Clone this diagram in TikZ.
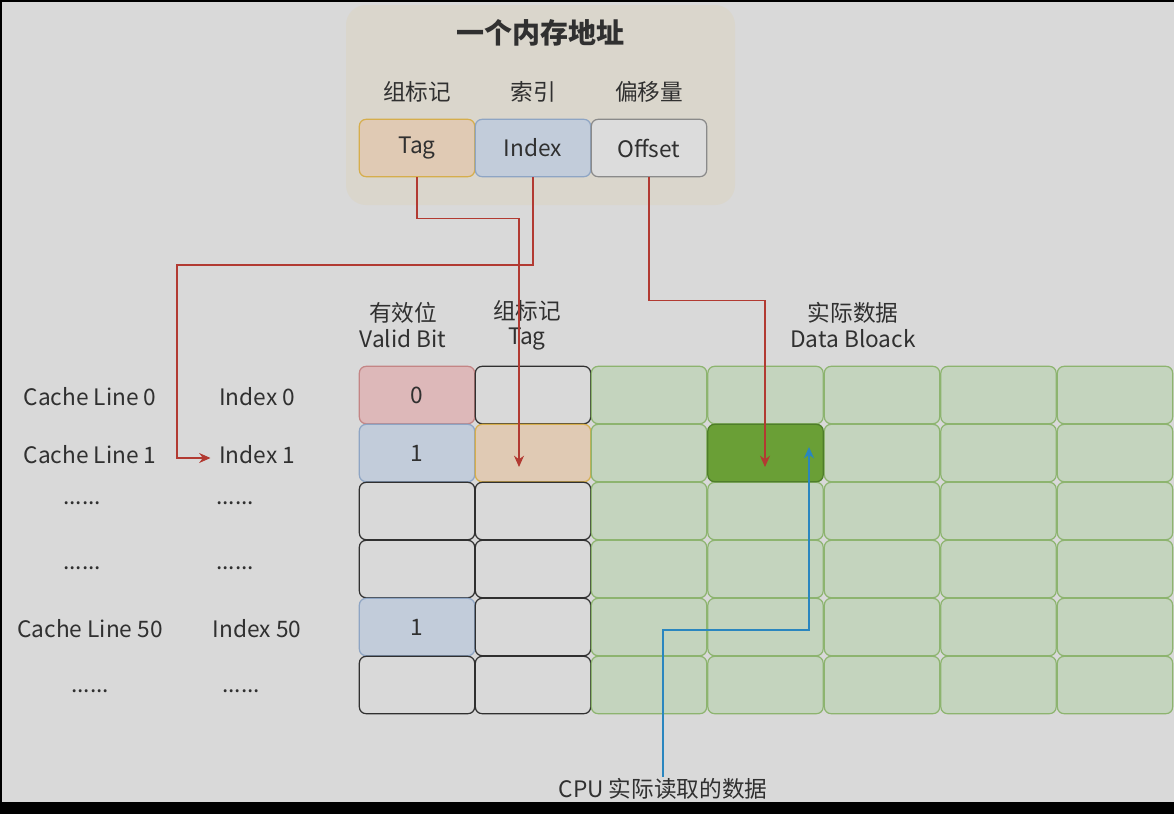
\documentclass[tikz,border=0pt]{standalone}
\usepackage{fontspec}
\setmainfont{Noto Sans CJK SC}
\usepackage{xcolor}
\usetikzlibrary{calc,arrows.meta}
\definecolor{frame}{HTML}{000000}
\definecolor{bg}{HTML}{D9D9D9}
\definecolor{panel}{HTML}{DAD6CC}
\definecolor{text}{HTML}{303030}
\definecolor{pinkfill}{HTML}{DDB8B9}
\definecolor{pinkline}{HTML}{C48585}
\definecolor{bluefill}{HTML}{C2CCDA}
\definecolor{blueline}{HTML}{8EA5C4}
\definecolor{peachfill}{HTML}{E0CAB4}
\definecolor{peachline}{HTML}{D6AE4C}
\definecolor{grayfill}{HTML}{DCDCDC}
\definecolor{grayline}{HTML}{8A8A8A}
\definecolor{greenfill}{HTML}{C4D4BE}
\definecolor{greenline}{HTML}{8DB46F}
\definecolor{darkgreen}{HTML}{6A9F36}
\definecolor{darkgreenline}{HTML}{4E7D2A}
\definecolor{redline}{HTML}{B23A32}
\definecolor{cpublue}{HTML}{2A86BF}
\tikzset{
  lab/.style={text=text, font=\fontsize{17}{19}\selectfont, inner sep=1pt},
  labt/.style={text=text, font=\fontsize{21}{24}\selectfont\bfseries, inner sep=1pt},
  cell/.style={draw=text, line width=0.9pt, rounded corners=5pt, minimum width=86.5pt,
    minimum height=43pt, inner sep=0pt, text=text, font=\fontsize{17}{19}\selectfont},
  plain/.style={cell},
  pinkc/.style={cell, fill=pinkfill, draw=pinkline},
  bluec/.style={cell, fill=bluefill, draw=blueline},
  peachc/.style={cell, fill=peachfill, draw=peachline},
  grayc/.style={cell, fill=grayfill, draw=grayline},
  greenc/.style={cell, fill=greenfill, draw=greenline},
  hitc/.style={cell, fill=darkgreen, draw=darkgreenline},
  link/.style={draw=redline, line width=1pt, -{Stealth[length=8.5pt,width=7.5pt]}},
  read/.style={draw=cpublue, line width=1pt, -{Stealth[length=8.5pt,width=7.5pt]}},
}

\begin{document}
\begin{tikzpicture}[x=0.75pt,y=-0.75pt]
  \fill[frame] (0,0) rectangle (1174,814);
  \fill[bg] (2,2) rectangle (1174,802);
  \useasboundingbox (0,0) rectangle (1174,814);

  % memory address
  \fill[panel, rounded corners=15pt] (346,5) rectangle (735,205);
  \node[labt] (addr) at (540,33) {一个内存地址};
  \node[peachc] (tag) at (417,148) {Tag};
  \node[bluec] (idx) at (533,148) {Index};
  \node[grayc] (off) at (649,148) {Offset};
  \node[lab] at (417,92) {组标记};
  \node[lab] at (533,92) {索引};
  \node[lab] at (649,92) {偏移量};

  % column headers
  \node[lab, align=center] (hv) at (403,325) {有效位\\Valid Bit};
  \node[lab, align=center] (ht) at (527,325) {组标记\\Tag};
  \node[lab, align=center] (hd) at (853,325) {实际数据\\Data Bloack};

  % cache lines
  \foreach \r/\sv/\tv/\st in {0/pinkc/0/plain,1/bluec/1/peachc,2/plain//plain,
                              3/plain//plain,4/bluec/1/plain,5/plain//plain} {
    \node[\sv] (v\r) at (417,395+58*\r) {\tv};
    \node[\st] (t\r) at (533,395+58*\r) {};
    \foreach \c in {0,...,4}
      \node[greenc] (d\c\r) at (649+116.5*\c,395+58*\r) {};
  }
  \node[hitc] (hit) at (d11) {};

  \node[lab] (cl0) at (90,397) {Cache Line 0};
  \node[lab] (ix0) at (257,397) {Index 0};
  \node[lab] (cl1) at (90,455) {Cache Line 1};
  \node[lab] (ix1) at (257,455) {Index 1};
  \node[lab] at (82,503) {......};
  \node[lab] at (235,503) {......};
  \node[lab] at (82,568) {......};
  \node[lab] at (235,568) {......};
  \node[lab] (cl50) at (90,629) {Cache Line 50};
  \node[lab] (ix50) at (257,629) {Index 50};
  \node[lab] at (90,691) {......};
  \node[lab] at (241,691) {......};

  \node[lab] (cpu) at (663,789) {CPU 实际读取的数据};

  \coordinate (tagIn) at (519,467);
  \coordinate (bend) at (177,265);
  \coordinate (dataIn) at (765,467);
  \coordinate (cpuIn) at (809,447);

  \draw[link] (tag.south) -- ++(0,41) -| (tagIn);
  \draw[link] (idx.south) |- (bend) |- ($(ix1.west)+(-7,3)$);
  \draw[link] (off.south) -- ++(0,123) -| (dataIn);
  \draw[read] (cpu.north) -- ++(0,-147) -| (cpuIn);
\end{tikzpicture}
\end{document}
